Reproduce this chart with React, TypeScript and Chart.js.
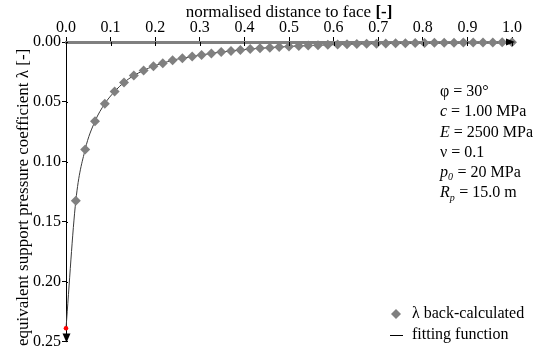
import React, { useEffect, useRef } from "react";
import { Chart, registerables } from "chart.js";

Chart.register(...registerables);

// normalised distance to face of the back-calculated points
const distance = [
  0.022, 0.043, 0.065, 0.087, 0.109, 0.13, 0.152, 0.174, 0.196, 0.217,
  0.239, 0.261, 0.283, 0.304, 0.326, 0.348, 0.37, 0.391, 0.413, 0.435,
  0.457, 0.478, 0.5, 0.522, 0.543, 0.565, 0.587, 0.609, 0.63, 0.652,
  0.674, 0.696, 0.717, 0.739, 0.761, 0.783, 0.804, 0.826, 0.848, 0.87,
  0.891, 0.913, 0.935, 0.957, 0.978, 1.0,
];
// lambda back-calculated
const lambdaBack = [
  0.1326, 0.0897, 0.0662, 0.0515, 0.0413, 0.0338, 0.028, 0.0238, 0.0202, 0.0177,
  0.0152, 0.0135, 0.0122, 0.0108, 0.0095, 0.0084, 0.0075, 0.0066, 0.0059, 0.0052,
  0.0047, 0.0042, 0.0037, 0.0033, 0.003, 0.0027, 0.0024, 0.0021, 0.0019, 0.0017,
  0.0015, 0.0014, 0.0012, 0.0011, 0.001, 0.0009, 0.0008, 0.0007, 0.0006, 0.0006,
  0.0005, 0.0005, 0.0004, 0.0004, 0.0003, 0.0003,
];
// fitting function value at the face
const faceDistance = [0.0];
const faceLambda = [0.239];

const xTickValues = [0, 0.1, 0.2, 0.3, 0.4, 0.5, 0.6, 0.7, 0.8, 0.9, 1.0];
const yTickValues = [0, 0.05, 0.1, 0.15, 0.2, 0.25];

const xTitle = "normalised distance to face ";
const xTitleUnit = "[-]";
const yTitle = "equivalent support pressure coefficient λ [-]";
const legendLabels = ["λ back-calculated", "fitting function"];

type Seg = { t: string; it?: boolean; sub?: boolean };
const paramLines: Seg[][] = [
  [{ t: "φ = 30°" }],
  [{ t: "c", it: true }, { t: " = 1.00 MPa" }],
  [{ t: "E", it: true }, { t: " = 2500 MPa" }],
  [{ t: "ν = 0.1" }],
  [{ t: "p", it: true }, { t: "0", it: true, sub: true }, { t: " = 20 MPa" }],
  [{ t: "R", it: true }, { t: "p", it: true, sub: true }, { t: " = 15.0 m" }],
];

const FONT = "'Liberation Serif', 'Times New Roman', serif";
const GREY = "#808080";
const LINE = "#3a3a3a";

export default function App() {
  const ref = useRef<HTMLCanvasElement | null>(null);

  useEffect(() => {
    const canvas = ref.current;
    if (!canvas) return;
    document.body.style.margin = "0";
    Chart.defaults.font.family = FONT;
    Chart.defaults.font.size = 16;
    Chart.defaults.color = "#000";

    const overlay = {
      id: "overlay",
      afterDraw(chart: any) {
        const ctx = chart.ctx as CanvasRenderingContext2D;
        const xs = chart.scales.x;
        const ys = chart.scales.y;
        const area = chart.chartArea;
        const y0 = ys.getPixelForValue(0);
        const x0 = xs.getPixelForValue(0);
        ctx.save();
        // lower halves of x tick marks
        ctx.strokeStyle = "#000";
        ctx.lineWidth = 1;
        xTickValues.forEach((v) => {
          if (v === 0) return;
          const px = Math.round(xs.getPixelForValue(v)) + 0.5;
          ctx.beginPath();
          ctx.moveTo(px, y0);
          ctx.lineTo(px, y0 + 4);
          ctx.stroke();
        });
        // y axis small right ticks
        yTickValues.forEach((v) => {
          const py = Math.round(ys.getPixelForValue(v)) + 0.5;
          ctx.beginPath();
          ctx.moveTo(x0, py);
          ctx.lineTo(x0 + 2, py);
          ctx.stroke();
        });
        // x arrow
        ctx.fillStyle = "#000";
        const xe = xs.getPixelForValue(1.0);
        ctx.beginPath();
        ctx.moveTo(xe + 3, y0);
        ctx.lineTo(xe - 6, y0 - 3.5);
        ctx.lineTo(xe - 6, y0 + 3.5);
        ctx.closePath();
        ctx.fill();
        // y arrow
        const ye = ys.getPixelForValue(0.25);
        ctx.beginPath();
        ctx.moveTo(x0 + 0.5, ye + 1);
        ctx.lineTo(x0 - 3.5, ye - 8);
        ctx.lineTo(x0 + 4.5, ye - 8);
        ctx.closePath();
        ctx.fill();

        // x title
        ctx.font = `17px ${FONT}`;
        const w1 = ctx.measureText(xTitle).width;
        ctx.font = `bold 17px ${FONT}`;
        const w2 = ctx.measureText(xTitleUnit).width;
        const cx = (area.left + area.right) / 2;
        const tx = cx - (w1 + w2) / 2;
        ctx.textBaseline = "alphabetic";
        ctx.textAlign = "left";
        ctx.font = `17px ${FONT}`;
        ctx.fillText(xTitle, tx, 17);
        ctx.font = `bold 17px ${FONT}`;
        ctx.fillText(xTitleUnit, tx + w1, 17);

        // y title (clipped at top like the original)
        ctx.save();
        ctx.beginPath();
        ctx.rect(0, 50, 60, 310);
        ctx.clip();
        ctx.translate(28, 346);
        ctx.rotate(-Math.PI / 2);
        ctx.font = `17px ${FONT}`;
        ctx.fillText(yTitle, 0, 0);
        ctx.restore();

        // parameters
        ctx.textBaseline = "middle";
        paramLines.forEach((segs, i) => {
          let px = 440;
          const py = 92 + i * 20.2;
          segs.forEach((s) => {
            const size = s.sub ? 10 : 16;
            ctx.font = `${s.it ? "italic " : ""}${size}px ${FONT}`;
            ctx.fillText(s.t, px, py + (s.sub ? 5 : 0));
            px += ctx.measureText(s.t).width + (s.sub ? 0.5 : 0);
          });
        });

        // legend
        const ly1 = 314;
        const ly2 = 335;
        ctx.fillStyle = GREY;
        ctx.beginPath();
        ctx.moveTo(396, ly1 - 5);
        ctx.lineTo(401, ly1);
        ctx.lineTo(396, ly1 + 5);
        ctx.lineTo(391, ly1);
        ctx.closePath();
        ctx.fill();
        ctx.strokeStyle = "#000";
        ctx.beginPath();
        ctx.moveTo(390, ly2 + 0.5);
        ctx.lineTo(403, ly2 + 0.5);
        ctx.stroke();
        ctx.fillStyle = "#000";
        ctx.font = `16px ${FONT}`;
        ctx.fillText(legendLabels[0], 412, ly1);
        ctx.fillText(legendLabels[1], 412, ly2);
        ctx.restore();
      },
    };

    const chart = new Chart(canvas, {
      type: "scatter",
      data: {
        datasets: [
          {
            label: legendLabels[0],
            data: distance.map((x, i) => ({ x, y: lambdaBack[i] })),
            pointStyle: "rectRot",
            pointRadius: 5,
            pointBorderWidth: 0,
            pointBackgroundColor: GREY,
            showLine: false,
            clip: false,
            order: 1,
          },
          {
            label: legendLabels[1],
            type: "line",
            data: faceDistance
              .map((x, i) => ({ x, y: faceLambda[i] }))
              .concat(distance.map((x, i) => ({ x, y: lambdaBack[i] }))),
            borderColor: LINE,
            borderWidth: 1,
            pointRadius: 0,
            cubicInterpolationMode: "monotone",
            fill: false,
            clip: false,
            order: 2,
          },
          {
            label: "face",
            data: faceDistance.map((x, i) => ({ x, y: faceLambda[i] })),
            pointRadius: 2.3,
            pointBorderWidth: 0,
            pointBackgroundColor: "#ff0000",
            clip: false,
            order: 0,
          },
        ],
      } as any,
      options: {
        responsive: false,
        animation: false,
        devicePixelRatio: 1,
        layout: { padding: { left: 0, right: 22, top: 0, bottom: 9 } },
        plugins: { legend: { display: false }, tooltip: { enabled: false } },
        scales: {
          x: {
            type: "linear",
            position: "top",
            min: 0,
            max: 1,
            afterFit: (s: any) => {
              s.height = 42;
            },
            afterBuildTicks: (s: any) => {
              s.ticks = xTickValues.map((v) => ({ value: v }));
            },
            border: { display: true, color: GREY, width: 3 },
            grid: {
              display: true,
              drawOnChartArea: false,
              drawTicks: true,
              tickLength: 5,
              color: "#000",
              lineWidth: 1,
            },
            ticks: {
              color: "#000",
              padding: 0,
              font: { family: FONT, size: 16 },
              maxRotation: 0,
              autoSkip: false,
              callback: (v: any) => Number(v).toFixed(1),
            },
          },
          y: {
            type: "linear",
            position: "left",
            reverse: true,
            min: 0,
            max: 0.25,
            afterFit: (s: any) => {
              s.width = 66;
            },
            afterBuildTicks: (s: any) => {
              s.ticks = yTickValues.map((v) => ({ value: v }));
            },
            border: { display: true, color: "#000", width: 1 },
            grid: {
              display: true,
              drawOnChartArea: false,
              drawTicks: true,
              tickLength: 4,
              color: "#000",
              lineWidth: 1,
            },
            ticks: {
              color: "#000",
              padding: 1,
              font: { family: FONT, size: 16 },
              autoSkip: false,
              callback: (v: any) => Number(v).toFixed(2),
            },
          },
        },
      } as any,
      plugins: [overlay],
    });

    return () => chart.destroy();
  }, []);

  return (
    <div style={{ position: "absolute", left: 0, top: 0, width: 534, height: 352 }}>
      <canvas ref={ref} width={534} height={352} />
    </div>
  );
}
